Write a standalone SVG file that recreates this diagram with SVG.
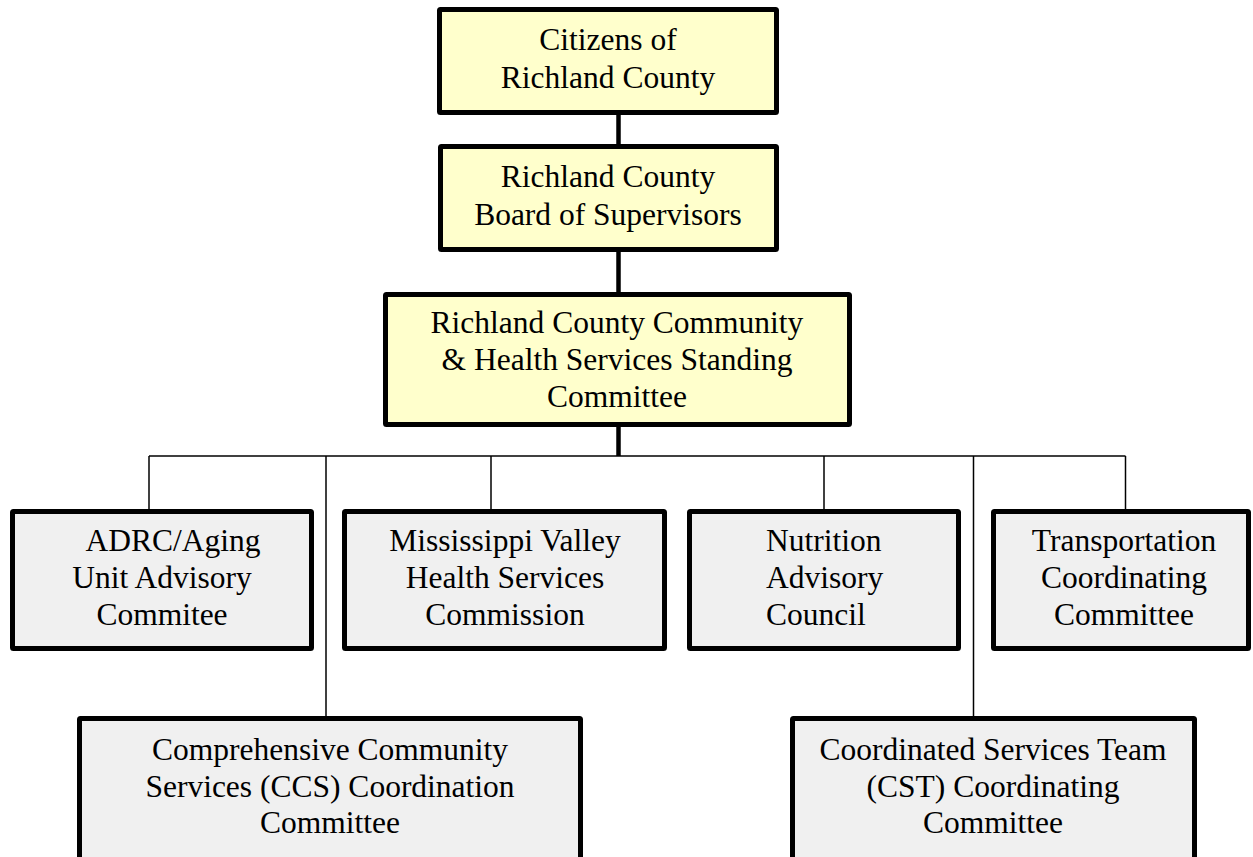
<svg xmlns="http://www.w3.org/2000/svg" width="1253" height="857" viewBox="0 0 1253 857">
<style>
.top{fill:#FFFFCC;stroke:#000;stroke-width:5}
.sub{fill:#F0F0F0;stroke:#000;stroke-width:5}
text{font-family:"Liberation Serif","Times New Roman",serif;font-size:31.5px;fill:#000;text-anchor:middle}
.trunk{stroke:#000;stroke-width:4.5;fill:none}
.thin{stroke:#000;stroke-width:1.5;fill:none}
</style>
<rect width="1253" height="857" fill="#fff"/>
<g id="connectors">
<line class="trunk" x1="618.5" y1="114" x2="618.5" y2="145"/>
<line class="trunk" x1="618.5" y1="251" x2="618.5" y2="293"/>
<line class="trunk" x1="618.5" y1="426" x2="618.5" y2="456"/>
<line class="thin" x1="149" y1="456" x2="1125.5" y2="456"/>
<line class="thin" x1="149" y1="456" x2="149" y2="510"/>
<line class="thin" x1="326" y1="456" x2="326" y2="717"/>
<line class="thin" x1="491" y1="456" x2="491" y2="510"/>
<line class="thin" x1="824" y1="456" x2="824" y2="510"/>
<line class="thin" x1="973.5" y1="456" x2="973.5" y2="717"/>
<line class="thin" x1="1125.5" y1="456" x2="1125.5" y2="510"/>
</g>
<g id="citizens">
<rect class="top" x="439.5" y="9.5" width="337" height="103" rx="1"/>
<text x="608" y="50">Citizens of</text>
<text x="608" y="88">Richland County</text>
</g>
<g id="board">
<rect class="top" x="440.5" y="146.5" width="336" height="103" rx="1"/>
<text x="608" y="187">Richland County</text>
<text x="608" y="225">Board of Supervisors</text>
</g>
<g id="committee">
<rect class="top" x="385.5" y="294.5" width="464" height="130" rx="1"/>
<text x="617" y="333">Richland County Community</text>
<text x="617" y="370">&amp; Health Services Standing</text>
<text x="617" y="407">Committee</text>
</g>
<g id="adrc">
<rect class="sub" x="12.5" y="511.5" width="299" height="137" rx="1"/>
<text x="173" y="551">ADRC/Aging</text>
<text x="162" y="588">Unit Advisory</text>
<text x="162" y="625">Commitee</text>
</g>
<g id="mississippi">
<rect class="sub" x="344.5" y="511.5" width="320" height="137" rx="1"/>
<text x="505" y="551">Mississippi Valley</text>
<text x="505" y="588">Health Services</text>
<text x="505" y="625">Commission</text>
</g>
<g id="nutrition">
<rect class="sub" x="689.5" y="511.5" width="269" height="137" rx="1"/>
<text x="766" y="551" style="text-anchor:start">Nutrition</text>
<text x="766" y="588" style="text-anchor:start">Advisory</text>
<text x="766" y="625" style="text-anchor:start">Council</text>
</g>
<g id="transportation">
<rect class="sub" x="993.5" y="511.5" width="255" height="137" rx="1"/>
<text x="1124" y="551">Transportation</text>
<text x="1124" y="588">Coordinating</text>
<text x="1124" y="625">Committee</text>
</g>
<g id="ccs">
<rect class="sub" x="79.5" y="718.5" width="501" height="160" rx="1"/>
<text x="330" y="760">Comprehensive Community</text>
<text x="330" y="797">Services (CCS) Coordination</text>
<text x="330" y="833">Committee</text>
</g>
<g id="cst">
<rect class="sub" x="792.5" y="718.5" width="402" height="160" rx="1"/>
<text x="993" y="760">Coordinated Services Team</text>
<text x="993" y="797">(CST) Coordinating</text>
<text x="993" y="833">Committee</text>
</g>
</svg>
